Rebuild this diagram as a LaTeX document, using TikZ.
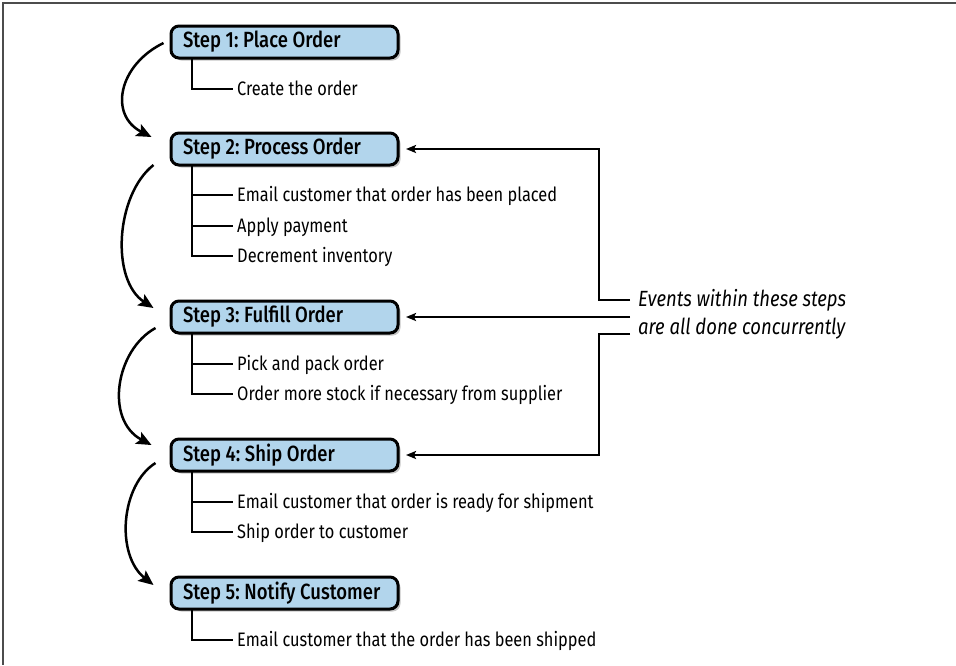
\documentclass[tikz,border=0pt]{standalone}
\usepackage{fontspec}
\setmainfont[FakeStretch=0.84, BoldFont={Fira Sans Medium}, BoldFeatures={FakeStretch=0.84}]{Fira Sans}
\usetikzlibrary{arrows.meta,shadows,calc}
\definecolor{boxblue}{RGB}{178,213,236}
\frenchspacing
\tikzset{
  stepbox/.style={draw=black, line width=3pt, rounded corners=8pt, fill=boxblue,
    drop shadow={shadow xshift=2.5pt, shadow yshift=-2.5pt, opacity=0.45},
    anchor=west, minimum height=32pt, minimum width=227pt, inner xsep=12pt,
    font=\fontsize{22}{26}\selectfont\bfseries},
  item/.style={anchor=west, inner sep=0pt, text height=15pt, text depth=3pt,
    font=\fontsize{19.5}{23}\selectfont},
  tree/.style={line width=2.5pt, line cap=rect},
  flow/.style={line width=2.5pt, -{Stealth[length=15pt,width=13pt,inset=3pt]}},
  conn/.style={line width=2pt, -{Stealth[length=10pt,width=8pt,inset=2pt]}},
  note/.style={anchor=west, inner sep=0pt, align=left, font=\fontsize{22}{28}\selectfont\itshape}
}
\newcommand{\steptext}[1]{\makebox[203pt][l]{#1}}
\begin{document}
\begin{tikzpicture}[x=1pt,y=-1pt]
\useasboundingbox (0,0) rectangle (956,665);
\draw[gray!60!black, line width=1.5pt] (956,3) -- (3,3) -- (3,665);

% step boxes
\node[stepbox] (s1) at (169.5,42) {\steptext{Step 1: Place Order}};
\node[stepbox] (s2) at (169.5,149) {\steptext{Step 2: Process Order}};
\node[stepbox] (s3) at (169.5,317) {\steptext{Step 3: Fulfill Order}};
\node[stepbox] (s4) at (169.5,455) {\steptext{Step 4: Ship Order}};
\node[stepbox] (s5) at (169.5,593) {\steptext{Step 5: Notify Customer}};

% items
\node[item] (t11) at (237,89) {Create the order};
\node[item] (t21) at (237,195) {Email customer that order has been placed};
\node[item] (t22) at (237,226) {Apply payment};
\node[item] (t23) at (237,256) {Decrement inventory};
\node[item] (t31) at (237,364) {Pick and pack order};
\node[item] (t32) at (237,394) {Order more stock if necessary from supplier};
\node[item] (t41) at (237,502) {Email customer that order is ready for shipment};
\node[item] (t42) at (237,532) {Ship order to customer};
\node[item] (t51) at (237,640) {Email customer that the order has been shipped};

% tree lines
\draw[tree] ([xshift=22.5pt]s1.south west) |- ([xshift=-5pt]t11.west);
\draw[tree] ([xshift=22.5pt]s2.south west) |- ([xshift=-5pt]t23.west);
\draw[tree] ([xshift=22.5pt]s2.south west |- t21.west) -- ([xshift=-5pt]t21.west);
\draw[tree] ([xshift=22.5pt]s2.south west |- t22.west) -- ([xshift=-5pt]t22.west);
\draw[tree] ([xshift=22.5pt]s3.south west) |- ([xshift=-5pt]t32.west);
\draw[tree] ([xshift=22.5pt]s3.south west |- t31.west) -- ([xshift=-5pt]t31.west);
\draw[tree] ([xshift=22.5pt]s4.south west) |- ([xshift=-5pt]t42.west);
\draw[tree] ([xshift=22.5pt]s4.south west |- t41.west) -- ([xshift=-5pt]t41.west);
\draw[tree] ([xshift=22.5pt]s5.south west) |- ([xshift=-5pt]t51.west);

% curved flow arrows
\draw[flow] ($(s1.west)+(-6,1)$) .. controls +(-45,22) and +(-43,-22) .. ($(s2.west)+(-18,-12)$);
\draw[flow] ($(s2.west)+(-16,16)$) .. controls +(-38,30) and +(-43,-28) .. ($(s3.west)+(-16,-9)$);
\draw[flow] ($(s3.west)+(-14,11)$) .. controls +(-40,22) and +(-47,-25) .. ($(s4.west)+(-18,-10)$);
\draw[flow] ($(s4.west)+(-14,8)$) .. controls +(-35,22) and +(-38,-30) .. ($(s5.west)+(-16,-8)$);

% note and connectors
\node[note] (note) at (638,314) {Events within these steps\\are all done concurrently};
\coordinate (c1) at ($(note.west)+(-8,-14)$);
\coordinate (c2) at ($(note.west)+(-8,3)$);
\coordinate (c3) at ($(note.west)+(-8,20)$);
\draw[conn] (c1) -- ++(-31,0) |- ([xshift=6.5pt]s2.east);
\draw[conn] (c2) -- ([xshift=6.5pt]s3.east);
\draw[conn] (c3) -- ++(-31,0) |- ([xshift=6.5pt]s4.east);
\end{tikzpicture}
\end{document}
